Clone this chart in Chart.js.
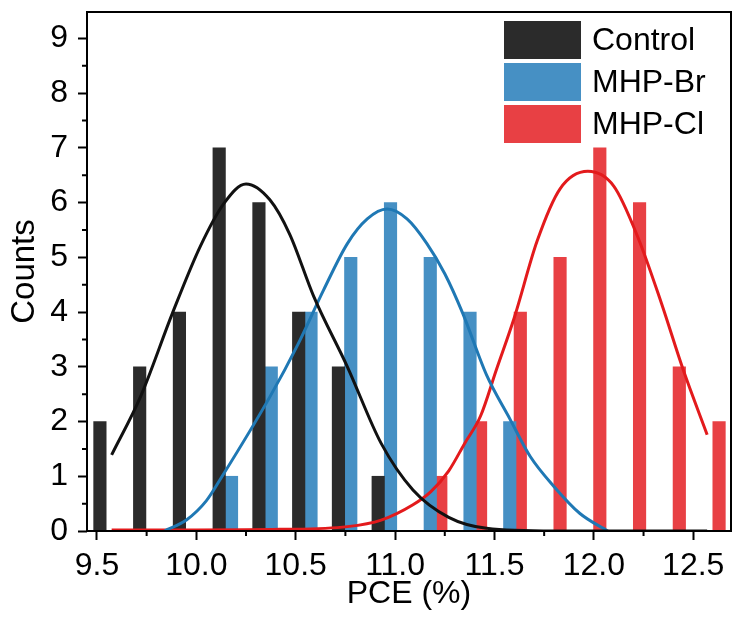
<!DOCTYPE html>
<html>
<head>
<meta charset="utf-8">
<script src="https://cdn.jsdelivr.net/npm/chart.js@4.4.1/dist/chart.umd.min.js"></script>
<style>
  html, body { margin: 0; padding: 0; background: #fff; }
  #wrap { width: 734px; height: 628px; }
</style>
</head>
<body>
<div id="wrap"><canvas id="pceChart" width="734" height="628"></canvas></div>
<script>
// histogram bins (bar centres) and counts
const controlBins = [9.515, 9.715, 9.915, 10.115, 10.315, 10.515, 10.715, 10.915];
const controlCounts = [2, 3, 4, 7, 6, 4, 3, 1];
const brBins = [10.177, 10.377, 10.577, 10.777, 10.977, 11.177, 11.377, 11.577];
const brCounts = [1, 3, 4, 5, 6, 5, 4, 2];
const clBins = [11.23, 11.43, 11.63, 11.83, 12.03, 12.23, 12.43, 12.63];
const clCounts = [1, 2, 4, 5, 7, 6, 3, 2];

// distribution curves, points
const controlFitX = [9.574, 9.72, 9.88, 10.02, 10.14, 10.25, 10.37, 10.47, 10.59, 10.76, 10.93, 11.09, 11.27, 11.46, 11.8, 12.2, 12.57];
const controlFitY = [1.39, 2.46, 3.98, 5.2, 5.99, 6.34, 6.05, 5.42, 4.29, 3.0, 1.6, 0.75, 0.25, 0.05, 0.0, 0.0, 0.0];
const brFitX = [9.84, 9.95, 10.05, 10.13, 10.37, 10.51, 10.64, 10.76, 10.86, 10.96, 11.06, 11.16, 11.25, 11.34, 11.46, 11.58, 11.68, 11.8, 11.93, 12.07];
const brFitY = [0.0, 0.2, 0.55, 1.0, 2.45, 3.4, 4.4, 5.25, 5.7, 5.88, 5.7, 5.25, 4.7, 3.98, 2.85, 2.03, 1.36, 0.81, 0.32, 0.0];
const clFitX = [9.574, 10.0, 10.42, 10.76, 10.93, 11.09, 11.18, 11.27, 11.35, 11.43, 11.51, 11.6, 11.715, 11.83, 11.97, 12.1, 12.22, 12.34, 12.45, 12.57];
const clFitY = [0.02, 0.02, 0.03, 0.08, 0.2, 0.48, 0.72, 1.1, 1.6, 2.1, 2.95, 3.9, 5.3, 6.25, 6.57, 6.3, 5.38, 4.16, 2.94, 1.76];

const xTicks = [9.5, 10.0, 10.5, 11.0, 11.5, 12.0, 12.5];
const yTicks = [0, 1, 2, 3, 4, 5, 6, 7, 8, 9];

const fontFamily = "'Liberation Sans', Arial, sans-serif";

function toPoints(xs, ys) {
  return xs.map((x, i) => ({ x: x, y: ys[i] }));
}

function barSet(label, xs, ys, color) {
  return {
    type: "bar",
    label: label,
    data: toPoints(xs, ys),
    backgroundColor: color,
    borderWidth: 0,
    barThickness: 12.5,
    grouped: false,
    order: 2,
  };
}

function curveSet(xs, ys, color) {
  return {
    type: "line",
    label: "",
    data: toPoints(xs, ys),
    borderColor: color,
    borderWidth: 3,
    pointRadius: 0,
    cubicInterpolationMode: "monotone",
    fill: false,
    order: 1,
  };
}

// minor ticks + box frame
const frameAndMinor = {
  id: "frameAndMinor",
  afterDraw(chart) {
    const { ctx, chartArea, scales } = chart;
    const xs = scales.x;
    const ys = scales.y;
    ctx.save();
    ctx.strokeStyle = "#000";
    ctx.lineWidth = 2;
    ctx.beginPath();
    for (let i = 0; i < xTicks.length; i++) {
      const v = xTicks[i] + 0.25;
      if (v >= xs.max) continue;
      const px = xs.getPixelForValue(v);
      ctx.moveTo(px, chartArea.bottom);
      ctx.lineTo(px, chartArea.bottom + 5);
    }
    for (let i = 0; i < yTicks.length; i++) {
      const v = yTicks[i] + 0.5;
      if (v >= ys.max) continue;
      const py = ys.getPixelForValue(v);
      ctx.moveTo(chartArea.left, py);
      ctx.lineTo(chartArea.left - 5, py);
    }
    ctx.stroke();
    ctx.strokeRect(chartArea.left, chartArea.top, chartArea.right - chartArea.left, chartArea.bottom - chartArea.top);
    ctx.restore();
  },
};

// legend inside the plot, top right
const boxLegend = {
  id: "boxLegend",
  afterDraw(chart) {
    const { ctx, chartArea } = chart;
    const bars = chart.data.datasets.filter((d) => d.type === "bar");
    const boxW = 77, boxH = 38, gap = 4;
    const left = chartArea.right - 227;
    let top = chartArea.top + 9;
    ctx.save();
    ctx.font = "32px " + fontFamily;
    ctx.textBaseline = "middle";
    ctx.textAlign = "left";
    bars.forEach((d) => {
      ctx.fillStyle = d.backgroundColor;
      ctx.fillRect(left, top, boxW, boxH);
      ctx.fillStyle = "#000";
      ctx.fillText(d.label, left + boxW + 11, top + boxH / 2 + 1);
      top += boxH + gap;
    });
    ctx.restore();
  },
};

const ctx = document.getElementById("pceChart").getContext("2d");
const chart = new Chart(ctx, {
  type: "bar",
  data: {
    datasets: [
      curveSet(controlFitX, controlFitY, "#111111"),
      curveSet(brFitX, brFitY, "#1f78b4"),
      curveSet(clFitX, clFitY, "#e31a1c"),
      barSet("Control", controlBins, controlCounts, "#2b2b2b"),
      barSet("MHP-Br", brBins, brCounts, "#4690c4"),
      barSet("MHP-Cl", clBins, clCounts, "#e84044"),
    ],
  },
  options: {
    responsive: false,
    devicePixelRatio: 1,
    animation: false,
    layout: { padding: { top: 12, right: 3, left: 0, bottom: 0 } },
    plugins: {
      legend: { display: false },
      tooltip: { enabled: false },
    },
    scales: {
      x: {
        type: "linear",
        min: 9.45,
        max: 12.69,
        offset: false,
        grid: { display: true, drawOnChartArea: false, drawTicks: true, tickLength: 9, tickWidth: 2, tickColor: "#000", offset: false },
        border: { display: false },
        ticks: {
          stepSize: 0.5,
          includeBounds: false,
          autoSkip: false,
          maxRotation: 0,
          padding: 7,
          color: "#000",
          font: { family: fontFamily, size: 32 },
          callback: (v) => (xTicks.includes(Number(v.toFixed(1))) ? v.toFixed(1) : ""),
        },
        title: { display: true, text: "PCE (%)", color: "#000", font: { family: fontFamily, size: 32 }, padding: { top: 0, bottom: 15 } },
        afterFit: (scale) => {
          scale.height = 97;
          scale.paddingLeft = 0;
          scale.paddingRight = 0;
        },
      },
      y: {
        min: 0,
        max: 9.48,
        grid: { display: true, drawOnChartArea: false, drawTicks: true, tickLength: 9, tickWidth: 2, tickColor: "#000" },
        border: { display: false },
        ticks: {
          stepSize: 1,
          includeBounds: false,
          padding: 10,
          color: "#000",
          font: { family: fontFamily, size: 32 },
          callback: (v) => (yTicks.includes(v) ? String(v) : ""),
        },
        title: { display: true, text: "Counts", color: "#000", font: { family: fontFamily, size: 33 }, padding: { top: 5, bottom: 0 } },
        afterFit: (scale) => {
          scale.width = 87;
          scale.paddingTop = 0;
          scale.paddingBottom = 0;
        },
      },
    },
  },
  plugins: [frameAndMinor, boxLegend],
});
</script>
</body>
</html>
